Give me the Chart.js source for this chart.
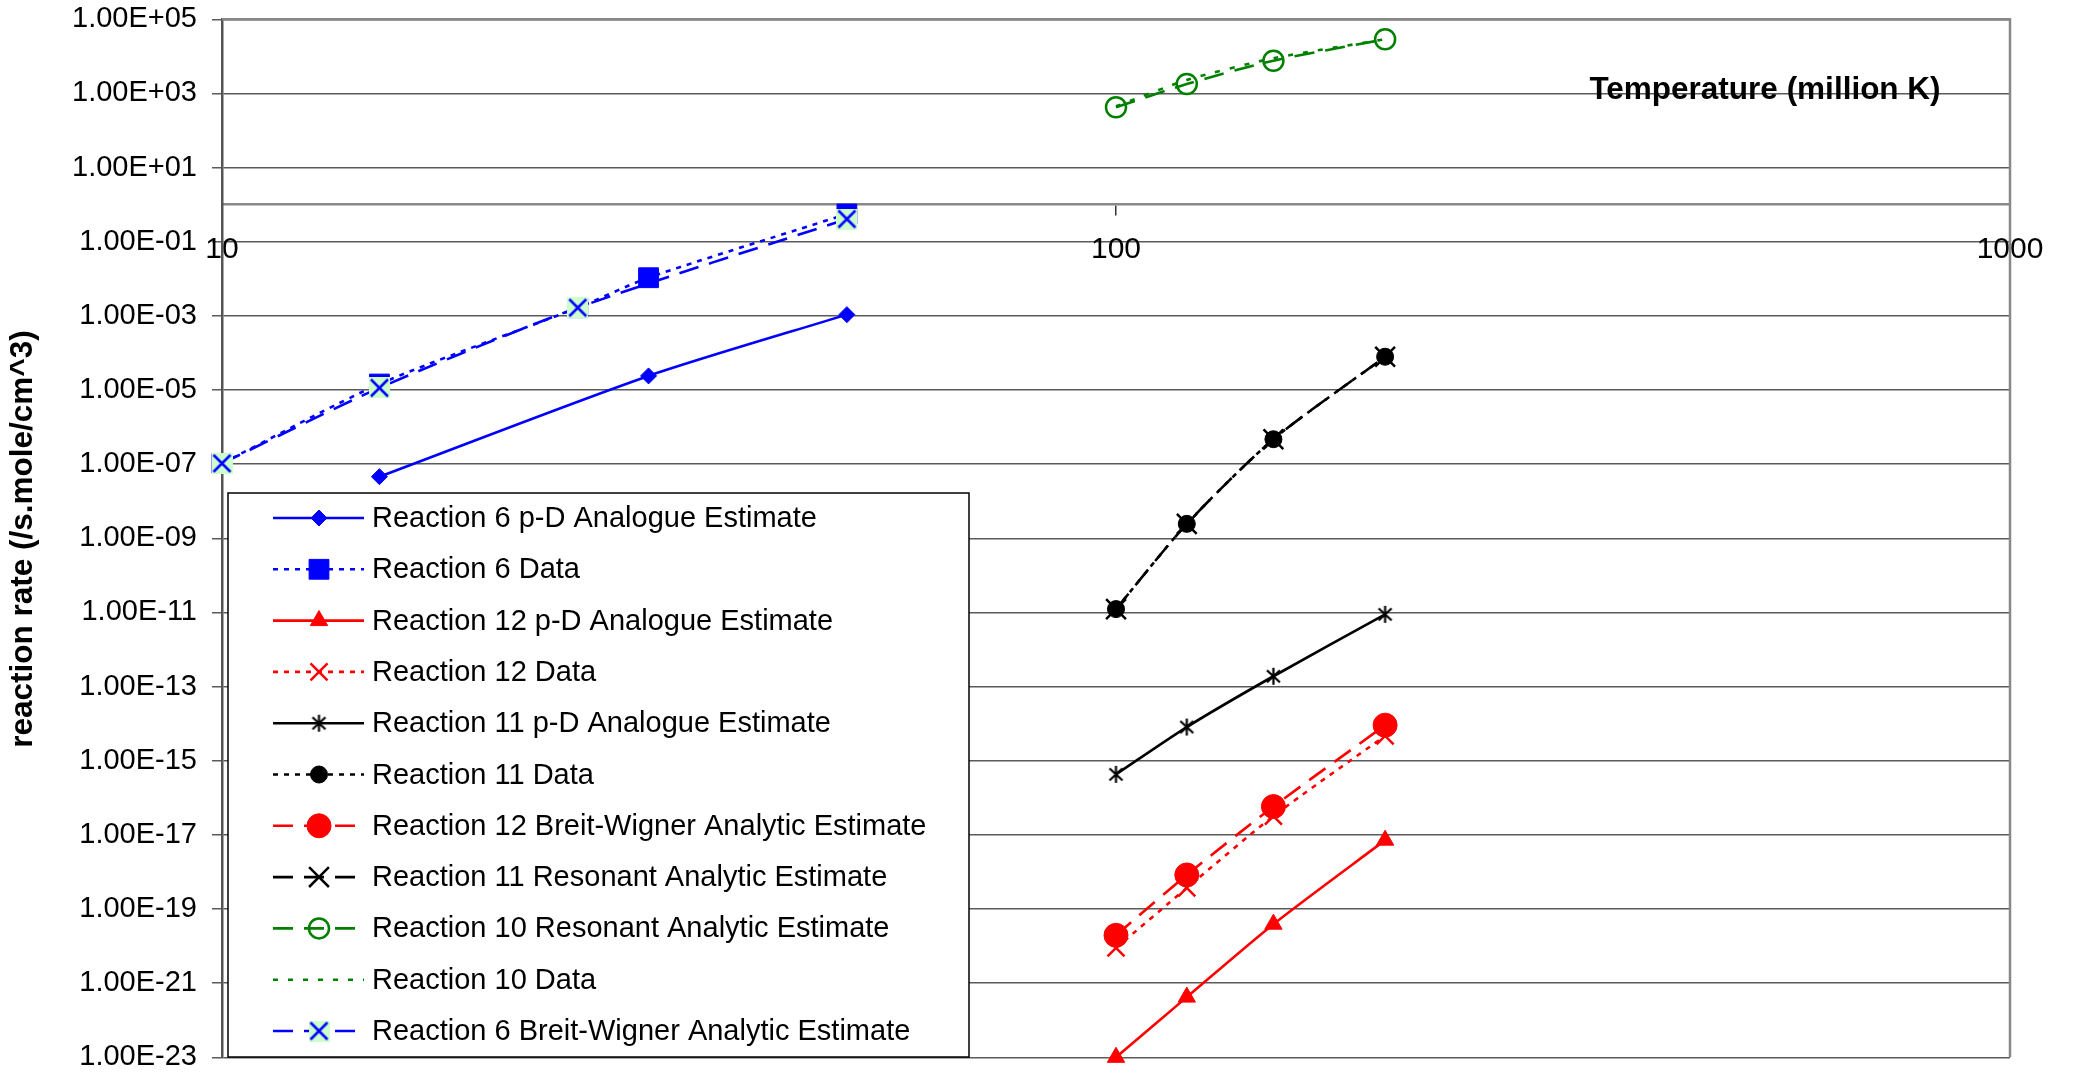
<!DOCTYPE html>
<html>
<head>
<meta charset="utf-8">
<script src="https://cdn.jsdelivr.net/npm/chart.js@4.4.0/dist/chart.umd.min.js"></script>
<style>
  html, body { margin: 0; padding: 0; background: #fff; }
  #wrap { width: 2073px; height: 1074px; }
</style>
</head>
<body>
<div id="wrap"><canvas id="chart" width="2073" height="1074"></canvas></div>
<script>
// temperatures in million K
const tempR6pD = [15, 30, 50];
const tempR6Data = [10, 15, 25, 30, 50];
const tempR6BW = [10, 15, 25, 50];
const tempHot = [100, 120, 150, 200];

// reaction rates (/s.mole/cm^3)
const rateR6pD = [4.6e-8, 2.4e-5, 1.08e-3];
const rateR6Data = [1.05e-7, 1.45e-5, 1.66e-3, 1.07e-2, 0.56];
const rateR12pD = [1.0e-23, 4.2e-22, 3.9e-20, 7.2e-18];
const rateR12Data = [8.9e-21, 3.7e-19, 3.2e-17, 4.7e-15];
const rateR11pD = [4.3e-16, 8.1e-15, 1.9e-13, 8.9e-12];
const rateR11Data = [1.23e-11, 2.45e-9, 4.7e-7, 7.9e-5];
const rateR12BW = [1.95e-20, 8.3e-19, 5.8e-17, 9.1e-15];
const rateR11Res = [1.23e-11, 2.45e-9, 4.7e-7, 7.9e-5];
const rateR10Res = [423, 1800, 7640, 28900];
const rateR10Data = [450, 2300, 8900, 28900];
const rateR6BW = [1.05e-7, 1.14e-5, 1.66e-3, 0.41];

const xTicks = [10, 100, 1000];
const yTicks = [1e-23, 1e-21, 1e-19, 1e-17, 1e-15, 1e-13, 1e-11, 1e-9, 1e-7, 1e-5, 1e-3, 1e-1, 1e1, 1e3, 1e5];

const FONT = "'Liberation Sans', Arial, sans-serif";
const BLUE = "#0000ff", RED = "#ff0000", BLACK = "#000000", GREEN = "#008000";
const DOT = [5, 6];
const DASH = [20, 11];

// marker: blue cross on a light green square
function makeCrossBox() {
    const c = document.createElement("canvas");
    c.width = 21; c.height = 21;
    const g = c.getContext("2d");
    g.fillStyle = "#ccffcc";
    g.fillRect(0, 0, 21, 21);
    g.strokeStyle = BLUE;
    g.lineWidth = 2.5;
    g.beginPath();
    g.moveTo(2, 2); g.lineTo(19, 19);
    g.moveTo(19, 2); g.lineTo(2, 19);
    g.stroke();
    return c;
}

// marker: six armed asterisk
function makeStar() {
    const c = document.createElement("canvas");
    c.width = 19; c.height = 19;
    const g = c.getContext("2d");
    g.strokeStyle = BLACK;
    g.lineWidth = 2.2;
    g.beginPath();
    g.moveTo(9.5, 1); g.lineTo(9.5, 18);
    g.moveTo(3, 3.5); g.lineTo(16, 15.5);
    g.moveTo(16, 3.5); g.lineTo(3, 15.5);
    g.stroke();
    return c;
}

function toPoints(xs, ys) {
    return xs.map((x, i) => ({ x: x, y: ys[i] }));
}

function series(label, xs, ys, color, dash, style, radius, filled) {
    return {
        label: label,
        data: toPoints(xs, ys),
        borderColor: color,
        borderWidth: 2.6,
        borderDash: dash,
        tension: 0.25,
        fill: false,
        clip: false,
        pointStyle: style,
        pointRadius: radius,
        pointBackgroundColor: filled ? color : "rgba(0,0,0,0)",
        pointBorderColor: color,
        pointBorderWidth: filled ? 1 : 2.5
    };
}

const datasets = [
    series("Reaction 6 p-D Analogue Estimate", tempR6pD, rateR6pD, BLUE, [], "rectRot", 8, true),
    series("Reaction 6 Data", tempR6Data, rateR6Data, BLUE, DOT, "rect", 14, true),
    series("Reaction 12 p-D Analogue Estimate", tempHot, rateR12pD, RED, [], "triangle", 10, true),
    series("Reaction 12 Data", tempHot, rateR12Data, RED, DOT, "crossRot", 12, false),
    series("Reaction 11 p-D Analogue Estimate", tempHot, rateR11pD, BLACK, [], makeStar(), 9, false),
    series("Reaction 11 Data", tempHot, rateR11Data, BLACK, DOT, "circle", 8.5, true),
    series("Reaction 12 Breit-Wigner Analytic Estimate", tempHot, rateR12BW, RED, DASH, "circle", 12, true),
    series("Reaction 11 Resonant Analytic Estimate", tempHot, rateR11Res, BLACK, DASH, "crossRot", 14, false),
    series("Reaction 10 Resonant Analytic Estimate", tempHot, rateR10Res, GREEN, DASH, "circle", 10, false),
    series("Reaction 10 Data", tempHot, rateR10Data, GREEN, [5, 10], "circle", 0, false),
    series("Reaction 6 Breit-Wigner Analytic Estimate", tempR6BW, rateR6BW, BLUE, DASH, makeCrossBox(), 10, false)
];
// later series drawn on top, like the original
datasets.forEach((ds, i) => { ds.order = datasets.length - i; });

function sci(v) {
    const e = Math.round(Math.log10(v));
    const m = v / Math.pow(10, e);
    return m.toFixed(2) + "E" + (e < 0 ? "-" : "+") + String(Math.abs(e)).padStart(2, "0");
}

// keep the label overhang from pushing the plot area in
function noOverhang(s) {
    s.paddingTop = 0;
    s.paddingBottom = 0;
    s.paddingLeft = 0;
    s.paddingRight = 0;
}

// top and right frame of the plot
const framePlugin = {
    id: "frame",
    beforeDatasetsDraw(chart) {
        const a = chart.chartArea, ctx = chart.ctx;
        ctx.save();
        ctx.strokeStyle = "#888";
        ctx.lineWidth = 2.5;
        ctx.beginPath();
        ctx.moveTo(a.left, a.top);
        ctx.lineTo(a.right, a.top);
        ctx.lineTo(a.right, a.bottom);
        ctx.stroke();
        ctx.restore();
    }
};

// axis titles
const titlePlugin = {
    id: "titles",
    afterDraw(chart) {
        const ctx = chart.ctx;
        ctx.save();
        ctx.fillStyle = "#000";
        ctx.font = "bold 31.5px " + FONT;
        ctx.textAlign = "center";
        ctx.textBaseline = "middle";
        ctx.fillText("Temperature (million K)", 1765, 90);
        ctx.translate(23, 539);
        ctx.rotate(-Math.PI / 2);
        ctx.fillText("reaction rate (/s.mole/cm^3)", 0, 0);
        ctx.restore();
    }
};

// legend box inside the plot
const legendPlugin = {
    id: "boxLegend",
    afterDraw(chart) {
        const ctx = chart.ctx;
        const box = { x: 228, y: 493, w: 741, h: 564 };
        ctx.save();
        ctx.fillStyle = "#fff";
        ctx.fillRect(box.x, box.y, box.w, box.h);
        ctx.strokeStyle = "#000";
        ctx.lineWidth = 1.5;
        ctx.strokeRect(box.x, box.y, box.w, box.h);

        chart.data.datasets.forEach((ds, i) => {
            const y = 518 + i * 51.3;
            ctx.strokeStyle = ds.borderColor;
            ctx.lineWidth = ds.borderWidth;
            ctx.setLineDash(ds.borderDash);
            ctx.beginPath();
            ctx.moveTo(273, y);
            ctx.lineTo(364, y);
            ctx.stroke();
            ctx.setLineDash([]);
            if (ds.pointRadius > 0) {
                ctx.fillStyle = ds.pointBackgroundColor;
                ctx.strokeStyle = ds.pointBorderColor;
                ctx.lineWidth = ds.pointBorderWidth;
                Chart.helpers.drawPoint(ctx, {
                    pointStyle: ds.pointStyle,
                    radius: ds.pointRadius,
                    borderWidth: ds.pointBorderWidth,
                    rotation: 0
                }, 319, y);
            }
            ctx.fillStyle = "#000";
            ctx.font = "29px " + FONT;
            ctx.textAlign = "left";
            ctx.textBaseline = "middle";
            ctx.fillText(ds.label, 372, y + 1);
        });
        ctx.restore();
    }
};

new Chart(document.getElementById("chart").getContext("2d"), {
    type: "line",
    data: { datasets: datasets },
    options: {
        responsive: false,
        animation: false,
        layout: { padding: { top: 19.3, right: 63, bottom: 16.7, left: 0 } },
        plugins: {
            legend: { display: false },
            tooltip: { enabled: false }
        },
        scales: {
            x: {
                type: "logarithmic",
                min: 10,
                max: 1000,
                position: { y: 1 },
                afterBuildTicks: s => { s.ticks = xTicks.map(v => ({ value: v })); },
                afterFit: noOverhang,
                ticks: {
                    autoSkip: false,
                    maxRotation: 0,
                    padding: 17,
                    color: "#000",
                    font: { family: FONT, size: 30 },
                    callback: v => String(v)
                },
                grid: { drawOnChartArea: false, tickLength: 10, color: "#333", lineWidth: 1.5 },
                border: { color: "#888", width: 2.5 }
            },
            y: {
                type: "logarithmic",
                min: 1e-23,
                max: 1e5,
                afterBuildTicks: s => { s.ticks = yTicks.map(v => ({ value: v })); },
                afterFit: s => { s.width = 222; noOverhang(s); },
                ticks: {
                    autoSkip: false,
                    padding: 15,
                    color: "#000",
                    font: { family: FONT, size: 29 },
                    callback: v => sci(v)
                },
                grid: { color: "#5a5a5a", lineWidth: 1.5, tickLength: 10 },
                border: { color: "#555", width: 2.5 }
            }
        }
    },
    plugins: [framePlugin, titlePlugin, legendPlugin]
});
</script>
</body>
</html>
